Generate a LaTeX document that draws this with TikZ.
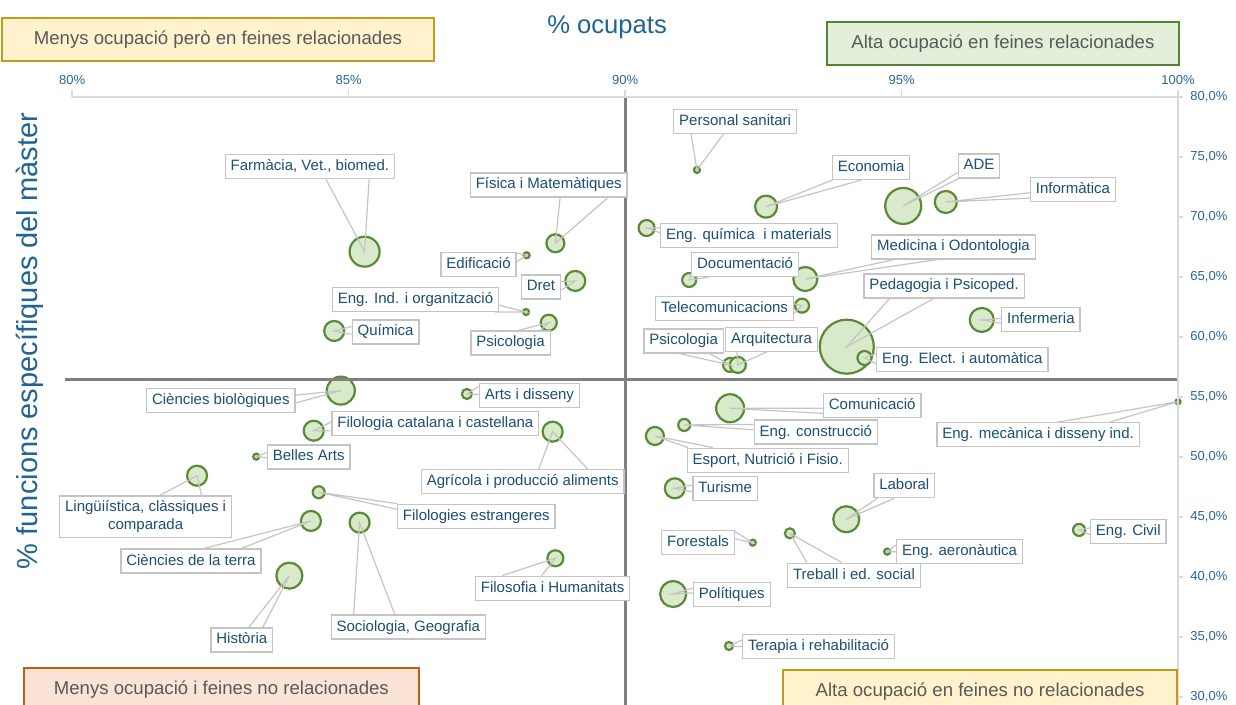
\documentclass[tikz,border=0pt]{standalone}
\usepackage{fontspec}
\setmainfont{Liberation Sans}
\definecolor{bubfill}{HTML}{D9EACB}
\definecolor{bubline}{HTML}{5A8A35}
\definecolor{boxgray}{HTML}{C4C4C4}
\definecolor{labblue}{HTML}{1C4F74}
\definecolor{tickblue}{HTML}{2A6496}
\definecolor{titleblue}{HTML}{1F6492}
\definecolor{axisgray}{HTML}{D9D9D9}
\definecolor{divgray}{HTML}{808080}
\definecolor{quadtext}{HTML}{595959}
\definecolor{yelfill}{HTML}{FFF2CC}
\definecolor{yelline}{HTML}{C49A1A}
\definecolor{grnfill}{HTML}{E2EFDA}
\definecolor{grnline}{HTML}{548235}
\definecolor{orafill}{HTML}{FBE4D6}
\definecolor{oraline}{HTML}{C55A11}
\pgfdeclarelayer{bubbles}
\pgfdeclarelayer{wedges}
\pgfsetlayers{bubbles,wedges,main}
\newcommand{\pointer}[4]{\draw[wedge] (#1.#2) -- (#4.center) -- (#1.#3);}

\begin{document}
\begin{tikzpicture}[x=27.65pt, y=6pt,
	bubble/.style={circle, draw=bubline, fill=bubfill, line width=1.1pt, inner sep=0pt, minimum size=#1},
	lab/.style={draw=boxgray, fill=white, line width=0.6pt, text=labblue, font=\fontsize{7.5}{9}\selectfont,
	  inner xsep=2.7pt, inner ysep=2.4pt, text height=5.6pt, text depth=1.6pt},
	wedge/.style={draw=boxgray, line width=0.6pt},
	quad/.style={line width=1pt, text=quadtext, font=\fontsize{9.3}{11}\selectfont, minimum height=21.4pt},
	axisline/.style={draw=axisgray, line width=0.6pt},
	divider/.style={draw=divgray, line width=1.5pt},
	ticklab/.style={text=tickblue, font=\fontsize{6.5}{8}\selectfont, inner sep=0pt}]
	\useasboundingbox (78.698,29.333) rectangle (101.049,88.083);
	% axes
	\draw[axisline] (80,80) -- (100,80) -- (100,29.333);
	\foreach \x in {80,85,...,100}{
	  \draw[axisline] (\x,80) -- (\x,80.55);
	  \node[ticklab] (tx\x) at (\x,81.42) {\x\%};
	}
	\foreach \y in {30,35,...,80}{
	  \draw[axisline] (100,\y) -- (100.09,\y);
	  \node[ticklab, anchor=west] (ty\y) at (100.217,\y) {\y,0\%};
	}
	\node[text=titleblue, font=\fontsize{12.8}{14}\selectfont] (xtitle) at (89.675,85.833) {\% ocupats};
	\node[text=titleblue, font=\fontsize{14.5}{16}\selectfont, rotate=90] (ytitle) at (79.24,59.67) {\% funcions específiques del màster};
	% quadrants
	\node[quad, draw=yelline, fill=yelfill, minimum width=215.9pt] (q1) at (82.638,84.779) {Menys ocupació però en feines relacionades};
	\node[quad, draw=grnline, fill=grnfill, minimum width=175.9pt] (q2) at (96.833,84.446) {Alta ocupació en feines relacionades};
	\node[quad, draw=oraline, fill=orafill, minimum width=197.7pt] (q3) at (82.70,30.625) {Menys ocupació i feines no relacionades};
	\node[quad, draw=yelline, fill=yelfill, minimum width=197pt] (q4) at (96.42,30.458) {Alta ocupació en feines no relacionades};
	\begin{pgfonlayer}{bubbles}
	  \node[bubble=15pt] (farm) at (85.29,67.11) {};
	  \node[bubble=9pt] (fis) at (88.74,67.81) {};
	  \node[bubble=3pt] (edif) at (88.22,66.81) {};
	  \node[bubble=10pt] (dret) at (89.10,64.67) {};
	  \node[bubble=3pt] (engind) at (88.21,62.08) {};
	  \node[bubble=10pt] (quim) at (84.74,60.50) {};
	  \node[bubble=8pt] (psicA) at (88.62,61.19) {};
	  \node[bubble=14pt] (cbio) at (84.86,55.53) {};
	  \node[bubble=5pt] (arts) at (87.14,55.25) {};
	  \node[bubble=10pt] (filcat) at (84.37,52.19) {};
	  \node[bubble=10pt] (agric) at (88.69,52.11) {};
	  \node[bubble=3pt] (belles) at (83.33,50.03) {};
	  \node[bubble=10pt] (ling) at (82.26,48.44) {};
	  \node[bubble=6pt] (filest) at (84.46,47.06) {};
	  \node[bubble=10pt] (cterra) at (84.32,44.67) {};
	  \node[bubble=10pt] (socio) at (85.20,44.53) {};
	  \node[bubble=13pt] (hist) at (83.93,40.11) {};
	  \node[bubble=8pt] (filos) at (88.74,41.56) {};
	  \node[bubble=3pt] (pers) at (91.30,73.92) {};
	  \node[bubble=11pt] (econ) at (92.55,70.86) {};
	  \node[bubble=18pt] (ade) at (95.03,70.92) {};
	  \node[bubble=11pt] (info) at (95.80,71.25) {};
	  \node[bubble=8pt] (engq) at (90.39,69.08) {};
	  \node[bubble=7pt] (docu) at (91.16,64.75) {};
	  \node[bubble=12pt] (medi) at (93.26,64.83) {};
	  \node[bubble=7pt] (tele) at (93.20,62.61) {};
	  \node[bubble=27pt] (peda) at (94.01,59.19) {};
	  \node[bubble=12pt] (inf) at (96.45,61.42) {};
	  \node[bubble=7pt] (psicB) at (91.90,57.67) {};
	  \node[bubble=8pt] (arq) at (92.04,57.67) {};
	  \node[bubble=7pt] (elec) at (94.33,58.25) {};
	  \node[bubble=14pt] (comu) at (91.90,54.06) {};
	  \node[bubble=6pt] (cons) at (91.07,52.67) {};
	  \node[bubble=9pt] (esport) at (90.54,51.75) {};
	  \node[bubble=2.5pt] (mec) at (100,54.61) {};
	  \node[bubble=10pt] (turis) at (90.90,47.39) {};
	  \node[bubble=13pt] (labo) at (94.00,44.81) {};
	  \node[bubble=6pt] (civil) at (98.21,43.92) {};
	  \node[bubble=3pt] (fores) at (92.31,42.86) {};
	  \node[bubble=5pt] (treb) at (92.98,43.64) {};
	  \node[bubble=3pt] (aero) at (94.74,42.11) {};
	  \node[bubble=13pt] (polit) at (90.87,38.58) {};
	  \node[bubble=4pt] (tera) at (91.88,34.25) {};
	  % quadrant lines
	  \draw[divider] (79.873,56.42) -- (100,56.42);
	  \draw[divider] (90,80) -- (90,29.333);
	\end{pgfonlayer}
	% labels
	\node[lab] (farmL) at (84.30,74.19) {Farmàcia, Vet., biomed.};
	\node[lab] (fisL) at (88.62,72.67) {Física i Matemàtiques};
	\node[lab] (edifL) at (87.35,66.03) {Edificació};
	\node[lab] (dretL) at (88.48,64.17) {Dret};
	\node[lab] (engindL) at (86.21,63.13) {Eng. Ind. i organització};
	\node[lab] (quimL) at (85.67,60.42) {Química};
	\node[lab] (psicAL) at (87.93,59.50) {Psicologia};
	\node[lab] (cbioL) at (82.69,54.72) {Ciències biològiques};
	\node[lab] (artsL) at (88.27,55.14) {Arts i disseny};
	\node[lab] (filcatL) at (86.57,52.78) {Filologia catalana i castellana};
	\node[lab] (agricL) at (88.15,47.96) {Agrícola i producció aliments};
	\node[lab] (bellesL) at (84.28,50.00) {Belles Arts};
	\node[lab, align=center, text height={}, text depth={}] (lingL) at (81.33,45.00) {Lingüiística, clàssiques i\\comparada};
	\node[lab] (filestL) at (87.31,45.07) {Filologies estrangeres};
	\node[lab] (cterraL) at (82.15,41.33) {Ciències de la terra};
	\node[lab] (socioL) at (86.08,35.83) {Sociologia, Geografia};
	\node[lab] (histL) at (83.07,34.75) {Història};
	\node[lab] (filosL) at (88.69,39.06) {Filosofia i Humanitats};
	\node[lab] (persL) at (91.99,77.94) {Personal sanitari};
	\node[lab] (econL) at (94.45,74.13) {Economia};
	\node[lab] (adeL) at (96.40,74.25) {ADE};
	\node[lab] (infoL) at (98.10,72.27) {Informàtica};
	\node[lab] (engqL) at (92.24,68.43) {Eng. química\ \ i materials};
	\node[lab] (docuL) at (92.17,66.02) {Documentació};
	\node[lab] (mediL) at (95.94,67.50) {Medicina i Odontologia};
	\node[lab] (teleL) at (91.80,62.36) {Telecomunicacions};
	\node[lab] (pedaL) at (95.77,64.25) {Pedagogia i Psicoped.};
	\node[lab] (infL) at (97.52,61.43) {Infermeria};
	\node[lab] (psicBL) at (91.06,59.67) {Psicologia};
	\node[lab] (arqL) at (92.65,59.81) {Arquitectura};
	\node[lab] (elecL) at (96.10,58.14) {Eng. Elect. i automàtica};
	\node[lab] (comuL) at (94.47,54.28) {Comunicació};
	\node[lab] (consL) at (93.45,52.08) {Eng. construcció};
	\node[lab] (esportL) at (92.58,49.73) {Esport, Nutrició i Fisio.};
	\node[lab] (mecL) at (97.47,51.85) {Eng. mecànica i disseny ind.};
	\node[lab] (turisL) at (91.81,47.38) {Turisme};
	\node[lab] (laboL) at (95.05,47.60) {Laboral};
	\node[lab] (civilL) at (99.10,43.81) {Eng. Civil};
	\node[lab] (foresL) at (91.32,42.85) {Forestals};
	\node[lab] (trebL) at (94.14,40.15) {Treball i ed. social};
	\node[lab] (aeroL) at (96.05,42.11) {Eng. aeronàutica};
	\node[lab] (politL) at (91.93,38.56) {Polítiques};
	\node[lab] (teraL) at (93.50,34.19) {Terapia i rehabilitació};
	% pointers
	\begin{pgfonlayer}{wedges}
	  \pointer{farmL}{322}{348}{farm}
	  \pointer{fisL}{312}{348}{fis}
	  \pointer{edifL}{17}{4}{edif}
	  \pointer{dretL}{15}{351}{dret}
	  \pointer{engindL}{351}{356}{engind}
	  \pointer{quimL}{171}{184}{quim}
	  \pointer{psicAL}{59}{23}{psicA}
	  \pointer{cbioL}{4}{358}{cbio}
	  \pointer{artsL}{170}{179}{arts}
	  \pointer{filcatL}{179}{184}{filcat}
	  \pointer{agricL}{38}{11}{agric}
	  \pointer{bellesL}{174}{181}{belles}
	  \pointer{lingL}{57}{21}{ling}
	  \pointer{filestL}{171}{175}{filest}
	  \pointer{cterraL}{44}{14}{cterra}
	  \pointer{socioL}{167}{137}{socio}
	  \pointer{histL}{61}{31}{hist}
	  \pointer{filosL}{166}{131}{filos}
	  \pointer{persL}{196}{227}{pers}
	  \pointer{econL}{198}{232}{econ}
	  \pointer{adeL}{197}{212}{ade}
	  \pointer{infoL}{184}{191}{info}
	  \pointer{engqL}{175}{178}{engq}
	  \pointer{docuL}{189}{199}{docu}
	  \pointer{mediL}{192}{218}{medi}
	  \pointer{teleL}{4}{356}{tele}
	  \pointer{pedaL}{193}{230}{peda}
	  \pointer{infL}{178}{185}{inf}
	  \pointer{psicBL}{249}{334}{psicB}
	  \pointer{arqL}{200}{250}{arq}
	  \pointer{elecL}{176}{183}{elec}
	  \pointer{comuL}{183}{189}{comu}
	  \pointer{consL}{173}{178}{cons}
	  \pointer{esportL}{167}{171}{esport}
	  \pointer{mecL}{33}{10}{mec}
	  \pointer{turisL}{174}{186}{turis}
	  \pointer{laboL}{205}{231}{labo}
	  \pointer{civilL}{175}{185}{civil}
	  \pointer{foresL}{17}{6}{fores}
	  \pointer{trebL}{165}{134}{treb}
	  \pointer{aeroL}{174}{180}{aero}
	  \pointer{politL}{171}{178}{polit}
	  \pointer{teraL}{175}{180}{tera}
	\end{pgfonlayer}
\end{tikzpicture}
\end{document}
